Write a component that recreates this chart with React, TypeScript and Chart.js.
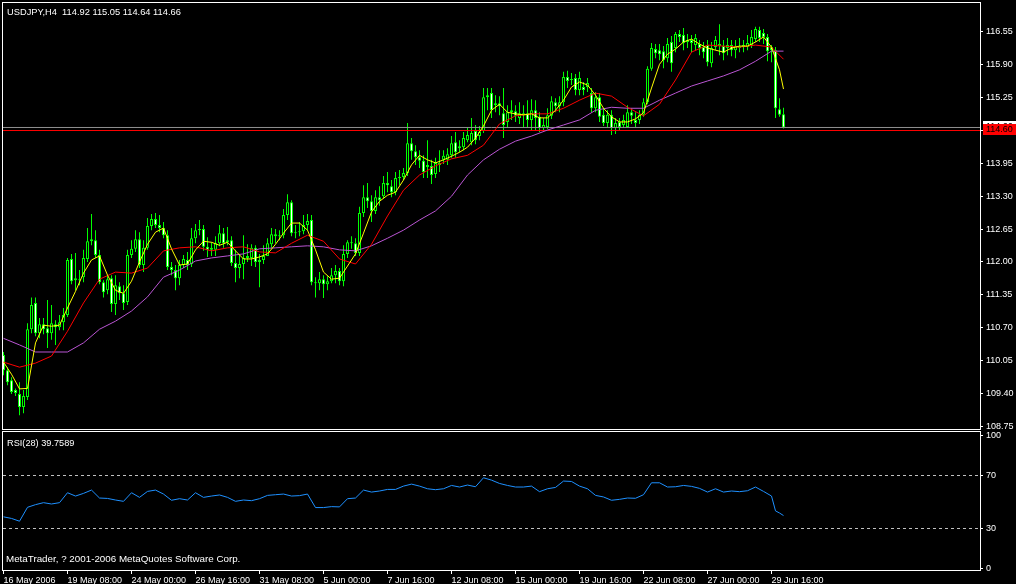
import React, { useEffect, useRef } from "react";
import { Chart, registerables } from "chart.js";

Chart.register(...registerables);

const symbolTitle = "USDJPY,H4  114.92 115.05 114.64 114.66";
const rsiTitle = "RSI(28) 39.7589";
const copyright = "MetaTrader, ? 2001-2006 MetaQuotes Software Corp.";

const opens = [
  110.16, 109.86, 109.66, 109.47, 109.39, 109.13, 109.33, 110.67, 111.19, 110.59,
  110.77, 110.69, 110.59, 110.77, 110.71, 110.81, 110.95, 112.06, 111.64, 111.66,
  111.70, 112.06, 112.41, 112.43, 112.14, 111.60, 111.44, 111.68, 111.17, 111.52,
  111.38, 111.21, 112.14, 112.26, 112.45, 111.94, 112.28, 112.71, 112.85, 112.73,
  112.67, 112.53, 111.90, 111.84, 111.68, 111.94, 112.04, 111.96, 112.47, 112.63,
  112.65, 112.30, 112.24, 112.24, 112.37, 112.57, 112.39, 112.43, 111.98, 111.88,
  111.96, 112.08, 112.08, 112.28, 112.00, 112.04, 112.12, 112.35, 112.55, 112.51,
  112.53, 112.93, 113.18, 112.57, 112.59, 112.61, 112.73, 112.83, 111.60, 111.58,
  111.66, 111.56, 111.62, 111.74, 111.82, 111.62, 112.16, 112.39, 112.37, 112.18,
  112.97, 113.28, 113.20, 113.01, 113.28, 113.30, 113.56, 113.50, 113.38, 113.66,
  113.68, 113.76, 114.35, 114.19, 114.07, 114.00, 113.88, 113.90, 113.74, 113.96,
  114.02, 114.02, 114.11, 114.37, 114.25, 114.27, 114.41, 114.37, 114.59, 114.49,
  114.59, 115.26, 115.34, 115.10, 115.14, 114.94, 114.77, 114.96, 114.98, 114.85,
  114.94, 114.94, 114.81, 115.00, 114.87, 114.65, 114.67, 114.89, 115.16, 115.08,
  115.16, 115.66, 115.60, 115.64, 115.40, 115.46, 115.46, 115.34, 115.04, 115.26,
  114.91, 114.75, 114.91, 114.65, 114.77, 114.71, 114.67, 114.96, 114.81, 114.81,
  114.91, 115.16, 115.82, 116.21, 116.19, 116.17, 116.03, 116.35, 116.23, 116.51,
  116.49, 116.39, 116.39, 116.29, 116.31, 116.25, 116.29, 115.93, 116.25, 116.31,
  116.27, 116.23, 116.29, 116.19, 116.25, 116.25, 116.25, 116.29, 116.41, 116.59,
  116.53, 116.45, 116.25, 116.19, 115.02, 114.92,
];

const highs = [
  110.22, 109.92, 109.72, 109.50, 109.62, 109.47, 110.79, 111.30, 111.30, 110.89,
  110.89, 111.25, 111.15, 110.85, 110.95, 111.09, 112.08, 112.16, 112.18, 111.84,
  112.24, 112.67, 112.95, 112.63, 112.24, 111.64, 111.72, 111.74, 111.74, 111.60,
  111.54, 112.24, 112.43, 112.63, 112.59, 112.43, 112.87, 112.95, 112.97, 112.93,
  112.79, 112.63, 112.00, 111.94, 112.04, 112.14, 112.20, 112.67, 112.75, 112.83,
  112.73, 112.49, 112.39, 112.51, 112.73, 112.67, 112.69, 112.51, 112.24, 112.14,
  112.53, 112.35, 112.35, 112.33, 112.16, 112.33, 112.47, 112.67, 112.65, 112.63,
  113.05, 113.34, 113.22, 112.73, 112.79, 112.93, 112.95, 112.93, 111.70, 111.80,
  111.74, 111.72, 111.88, 111.94, 111.88, 112.33, 112.43, 112.51, 112.47, 113.09,
  113.52, 113.56, 113.32, 113.42, 113.50, 113.70, 113.78, 113.62, 113.78, 113.82,
  113.86, 114.75, 114.45, 114.31, 114.21, 114.11, 114.41, 114.02, 114.06, 114.21,
  114.21, 114.25, 114.49, 114.57, 114.41, 114.57, 114.65, 114.85, 114.71, 114.69,
  115.44, 115.44, 115.44, 115.30, 115.28, 115.44, 115.10, 115.20, 115.10, 115.16,
  115.10, 115.20, 115.22, 115.20, 114.96, 114.85, 115.04, 115.28, 115.24, 115.28,
  115.76, 115.78, 115.74, 115.72, 115.76, 115.56, 115.64, 115.44, 115.36, 115.34,
  115.04, 115.00, 115.00, 114.85, 114.85, 114.91, 115.10, 115.04, 114.96, 115.00,
  115.24, 115.87, 116.33, 116.31, 116.31, 116.27, 116.43, 116.47, 116.55, 116.59,
  116.63, 116.51, 116.49, 116.51, 116.39, 116.35, 116.39, 116.35, 116.47, 116.70,
  116.39, 116.43, 116.39, 116.39, 116.43, 116.39, 116.49, 116.59, 116.65, 116.65,
  116.61, 116.51, 116.29, 116.25, 115.24, 115.05,
];

const lows = [
  109.76, 109.56, 109.39, 109.35, 108.97, 109.01, 109.27, 110.59, 110.53, 110.49,
  110.57, 110.30, 110.46, 110.36, 110.65, 110.65, 110.91, 111.56, 111.44, 111.54,
  111.60, 112.00, 112.33, 112.08, 111.56, 111.30, 111.36, 111.01, 110.95, 111.25,
  111.05, 111.15, 112.08, 112.20, 111.88, 111.80, 112.24, 112.63, 112.67, 112.59,
  112.47, 111.84, 111.74, 111.44, 111.54, 111.88, 111.84, 111.90, 112.37, 112.53,
  112.22, 112.10, 112.12, 112.12, 112.31, 112.28, 112.33, 111.92, 111.60, 111.68,
  111.66, 112.00, 111.92, 111.90, 111.50, 111.96, 112.12, 112.28, 112.37, 112.43,
  112.47, 112.83, 112.51, 112.47, 112.51, 112.55, 112.63, 111.54, 111.30, 111.44,
  111.29, 111.44, 111.58, 111.58, 111.54, 111.52, 112.08, 112.26, 112.12, 112.12,
  112.89, 113.07, 112.79, 112.95, 113.11, 113.26, 113.38, 113.28, 113.32, 113.52,
  113.62, 113.70, 114.02, 113.92, 113.86, 113.66, 113.66, 113.54, 113.66, 113.78,
  113.94, 113.92, 114.06, 114.06, 114.17, 114.21, 114.37, 114.31, 114.33, 114.41,
  114.55, 115.00, 114.85, 114.96, 114.90, 114.45, 114.65, 114.81, 114.77, 114.73,
  114.65, 114.65, 114.61, 114.61, 114.57, 114.61, 114.63, 114.83, 114.96, 114.96,
  115.08, 115.44, 115.50, 115.30, 115.30, 115.30, 115.36, 114.96, 114.96, 114.77,
  114.69, 114.65, 114.51, 114.53, 114.61, 114.65, 114.65, 114.73, 114.67, 114.73,
  114.87, 115.12, 115.78, 116.03, 115.99, 115.83, 115.95, 115.76, 116.15, 116.35,
  116.19, 116.23, 116.15, 116.19, 116.09, 116.03, 115.87, 115.85, 116.19, 116.09,
  115.99, 116.09, 116.07, 116.03, 116.15, 116.15, 116.19, 116.23, 116.35, 116.35,
  116.31, 115.97, 115.95, 114.85, 114.87, 114.64,
];

const closes = [
  109.86, 109.62, 109.43, 109.41, 109.13, 109.35, 110.67, 111.15, 110.59, 110.77,
  110.67, 110.59, 110.79, 110.71, 110.81, 110.95, 112.04, 111.62, 111.68, 111.64,
  112.08, 112.41, 112.45, 112.14, 111.60, 111.40, 111.66, 111.17, 111.54, 111.38,
  111.19, 112.14, 112.26, 112.45, 111.94, 112.28, 112.71, 112.85, 112.73, 112.67,
  112.53, 111.90, 111.84, 111.68, 111.94, 112.06, 111.94, 112.47, 112.63, 112.65,
  112.30, 112.24, 112.28, 112.37, 112.57, 112.37, 112.43, 111.98, 111.88, 111.96,
  112.08, 112.12, 112.28, 112.00, 112.04, 112.12, 112.37, 112.55, 112.51, 112.53,
  112.93, 113.18, 112.57, 112.59, 112.61, 112.73, 112.81, 111.60, 111.58, 111.66,
  111.56, 111.62, 111.74, 111.82, 111.62, 112.16, 112.39, 112.37, 112.18, 112.97,
  113.28, 113.20, 113.01, 113.28, 113.22, 113.56, 113.52, 113.38, 113.66, 113.68,
  113.76, 114.35, 114.19, 114.07, 114.00, 113.78, 113.92, 113.72, 113.96, 113.92,
  114.10, 114.13, 114.35, 114.17, 114.29, 114.45, 114.51, 114.55, 114.41, 114.57,
  115.26, 115.30, 115.00, 115.14, 115.08, 114.71, 114.96, 115.00, 114.89, 114.94,
  114.90, 114.81, 115.00, 114.85, 114.65, 114.71, 114.90, 115.18, 115.08, 115.16,
  115.66, 115.58, 115.62, 115.40, 115.64, 115.40, 115.54, 115.04, 115.26, 114.87,
  114.75, 114.91, 114.65, 114.75, 114.67, 114.81, 114.96, 114.89, 114.75, 114.91,
  115.16, 115.82, 116.23, 116.13, 116.11, 115.99, 116.31, 115.93, 116.51, 116.45,
  116.33, 116.35, 116.33, 116.43, 116.23, 116.15, 115.95, 116.23, 116.39, 116.27,
  116.13, 116.29, 116.19, 116.27, 116.23, 116.29, 116.33, 116.45, 116.61, 116.43,
  116.45, 116.17, 116.19, 115.04, 114.91, 114.66,
];

// fast moving average, read every 2nd bar (plus the last bar)
const fastMa = [
  110.02, 109.78, 109.49, 109.50, 110.40, 110.75, 110.73, 110.75, 111.09, 111.42,
  111.78, 112.04, 112.12, 111.74, 111.44, 111.38, 111.62, 112.00, 112.35, 112.59,
  112.67, 112.26, 111.94, 111.96, 112.24, 112.41, 112.39, 112.33, 112.39, 112.22,
  112.06, 112.06, 112.10, 112.16, 112.35, 112.57, 112.77, 112.77, 112.63, 112.24,
  111.80, 111.66, 111.68, 111.92, 112.16, 112.57, 112.99, 113.20, 113.32, 113.38,
  113.62, 113.92, 114.11, 114.02, 113.96, 114.02, 114.09, 114.17, 114.27, 114.45,
  114.69, 115.00, 115.12, 114.96, 114.93, 114.91, 114.93, 114.85, 114.85, 115.00,
  115.20, 115.46, 115.56, 115.50, 115.30, 115.04, 114.87, 114.77, 114.77, 114.83,
  114.95, 115.44, 115.91, 116.11, 116.21, 116.35, 116.41, 116.31, 116.23, 116.19,
  116.15, 116.23, 116.27, 116.27, 116.35, 116.45, 116.25, 115.80, 115.42,
];

// medium and slow moving averages, read every 4th bar (plus the last bar)
const mediumMa = [
  110.02, 109.92, 110.00, 110.14, 110.63, 111.19, 111.66, 111.80, 111.78, 111.88,
  112.22, 112.28, 112.30, 112.22, 112.28, 112.30, 112.20, 112.18, 112.37, 112.53,
  112.41, 112.06, 111.96, 112.35, 112.91, 113.42, 113.72, 113.90, 114.04, 114.11,
  114.31, 114.73, 114.89, 114.93, 114.93, 115.04, 115.20, 115.34, 115.28, 115.06,
  114.89, 115.12, 115.60, 116.15, 116.29, 116.27, 116.25, 116.29, 116.25, 116.01,
];

const slowMa = [
  110.49, 110.36, 110.22, 110.22, 110.22, 110.40, 110.67, 110.83, 111.03, 111.31,
  111.70, 111.84, 112.02, 112.08, 112.12, 112.16, 112.26, 112.28, 112.30, 112.32,
  112.30, 112.24, 112.22, 112.32, 112.47, 112.63, 112.83, 113.01, 113.30, 113.72,
  114.02, 114.23, 114.39, 114.49, 114.61, 114.71, 114.81, 115.00, 115.06, 115.04,
  115.04, 115.20, 115.34, 115.48, 115.58, 115.68, 115.80, 115.97, 116.17, 116.17,
];

// RSI(28), read every 2nd bar, then the last three bars
const rsiValues = [
  38.8, 37.6, 35.5, 46.0, 48.0, 49.5, 48.5, 49.5, 57.0, 54.5,
  56.5, 59.0, 53.0, 52.7, 51.5, 50.5, 57.0, 53.5, 58.0, 59.0,
  56.0, 51.3, 52.5, 51.5, 57.0, 53.5, 54.5, 55.3, 53.5, 50.5,
  51.5, 51.0, 52.5, 55.0, 55.5, 56.0, 54.5, 54.8, 56.0, 45.8,
  45.8, 46.5, 46.3, 52.5, 53.0, 59.0, 57.5, 58.3, 59.5, 59.5,
  62.0, 63.5, 62.0, 60.0, 59.3, 60.0, 62.5, 61.3, 62.8, 61.5,
  68.3, 66.5, 64.0, 62.5, 61.3, 61.3, 62.0, 57.8, 60.0, 61.0,
  65.8, 65.5, 62.0, 60.0, 55.0, 53.8, 51.3, 52.0, 53.0, 52.8,
  55.5, 64.5, 64.5, 61.3, 61.5, 62.5, 61.8, 60.3, 57.5, 60.0,
  57.5, 58.3, 57.8, 58.5, 61.3, 58.0, 54.5, 43.3, 41.7, 39.76,
];

const bidPrice = 114.66;
const linePrice = 114.6;
const priceTicks = [108.75, 109.4, 110.05, 110.7, 111.35, 112.0, 112.65, 113.3, 113.95, 114.6, 115.25, 115.9, 116.55];
const rsiTicks = [0, 30, 70, 100];
const rsiLevels = [70, 30];
const timeLabels = [
  "16 May 2006", "19 May 08:00", "24 May 00:00", "26 May 16:00", "31 May 08:00", "5 Jun 00:00",
  "7 Jun 16:00", "12 Jun 08:00", "15 Jun 00:00", "19 Jun 16:00", "22 Jun 08:00", "27 Jun 00:00", "29 Jun 16:00",
];

const BAR_COUNT = opens.length;
const LAST = BAR_COUNT - 1;
const barIndex = Array.from({ length: BAR_COUNT }, (_, i) => i);
const stepBars = (step: number, upTo: number) => Array.from({ length: Math.floor(upTo / step) + 1 }, (_, i) => i * step);
const fastBars = stepBars(2, 194).concat([LAST]);
const maBars = stepBars(4, 192).concat([LAST]);
const rsiBars = stepBars(2, 192).concat([193, 194, LAST]);
const timeTickBars = stepBars(16, 192);

const X_MIN = -0.125;
const X_MAX = 244.125;

const FONT = '"Liberation Sans", Arial, sans-serif';

const zeroPad = (s: any) => {
  s.paddingTop = 0;
  s.paddingBottom = 0;
  s.paddingLeft = 0;
  s.paddingRight = 0;
};

const mainDecor = {
  id: "mainDecor",
  afterDraw(chart: any) {
    const { ctx, chartArea } = chart;
    const { left, top, right, bottom } = chartArea;
    const y = chart.scales.y;
    ctx.save();
    ctx.strokeStyle = "#FFFFFF";
    ctx.lineWidth = 1;
    ctx.strokeRect(left - 0.5, top - 0.5, right - left + 1, bottom - top + 1);
    ctx.fillStyle = "#FFFFFF";
    ctx.font = `9.3px ${FONT}`;
    ctx.textAlign = "left";
    ctx.textBaseline = "alphabetic";
    ctx.fillText(symbolTitle, 7, 15);
    const drawLabel = (price: number, bg: string) => {
      const py = Math.floor(y.getPixelForValue(price));
      ctx.fillStyle = bg;
      ctx.fillRect(right + 3, py - 6, chart.width - right - 3, 11);
      ctx.fillStyle = "#000000";
      ctx.font = `9px ${FONT}`;
      ctx.textBaseline = "middle";
      ctx.fillText(price.toFixed(2), right + 6, py - 0.5);
    };
    drawLabel(bidPrice, "#FFFFFF");
    drawLabel(linePrice, "#FF0000");
    ctx.restore();
  },
};

const rsiDecor = {
  id: "rsiDecor",
  afterDraw(chart: any) {
    const { ctx, chartArea } = chart;
    const { left, top, right, bottom } = chartArea;
    ctx.save();
    ctx.strokeStyle = "#FFFFFF";
    ctx.lineWidth = 1;
    ctx.strokeRect(left - 0.5, top - 0.5, right - left + 1, bottom - top + 1);
    ctx.fillStyle = "#FFFFFF";
    ctx.textAlign = "left";
    ctx.textBaseline = "alphabetic";
    ctx.font = `9.2px ${FONT}`;
    ctx.fillText(rsiTitle, 7, 14.5);
    ctx.font = `9.8px ${FONT}`;
    ctx.fillText(copyright, 6, 130.5);
    ctx.restore();
  },
};

export default function App() {
  const mainRef = useRef<HTMLCanvasElement>(null);
  const rsiRef = useRef<HTMLCanvasElement>(null);

  useEffect(() => {
    const mainChart = new Chart(mainRef.current as HTMLCanvasElement, {
      type: "bar",
      data: {
        datasets: [
          {
            type: "line",
            label: "Fast MA",
            data: fastBars.map((b, i) => ({ x: b, y: fastMa[i] })),
            borderColor: "#FFFF00",
            borderWidth: 1,
            pointRadius: 0,
            tension: 0,
            fill: false,
            order: 0,
          },
          {
            type: "line",
            label: "Medium MA",
            data: maBars.map((b, i) => ({ x: b, y: mediumMa[i] })),
            borderColor: "#FF0000",
            borderWidth: 1,
            pointRadius: 0,
            tension: 0,
            fill: false,
            order: 0,
          },
          {
            type: "line",
            label: "Slow MA",
            data: maBars.map((b, i) => ({ x: b, y: slowMa[i] })),
            borderColor: "#BA55D3",
            borderWidth: 1,
            pointRadius: 0,
            tension: 0,
            fill: false,
            order: 0,
          },
          {
            type: "line",
            label: "Bid",
            data: [
              { x: X_MIN, y: bidPrice },
              { x: X_MAX, y: bidPrice },
            ],
            borderColor: "#909090",
            borderWidth: 1,
            pointRadius: 0,
            fill: false,
            order: 0,
          },
          {
            type: "line",
            label: "Level",
            data: [
              { x: X_MIN, y: linePrice },
              { x: X_MAX, y: linePrice },
            ],
            borderColor: "#FF0000",
            borderWidth: 1,
            pointRadius: 0,
            fill: false,
            order: 0,
          },
          {
            type: "bar",
            label: "Bodies",
            data: barIndex.map((i) => ({ x: i, y: [opens[i], closes[i]] })) as any,
            backgroundColor: (c: any) => (closes[c.dataIndex] >= opens[c.dataIndex] ? "#000000" : "#FFFFFF"),
            borderColor: "#00FF00",
            borderWidth: 1,
            borderSkipped: false,
            barThickness: 3,
            grouped: false,
            minBarLength: 1,
            inflateAmount: 0,
            order: 1,
          } as any,
          {
            type: "bar",
            label: "Wicks",
            data: barIndex.map((i) => ({ x: i, y: [lows[i], highs[i]] })) as any,
            backgroundColor: "#00FF00",
            borderWidth: 0,
            barThickness: 1,
            grouped: false,
            inflateAmount: 0,
            order: 2,
          } as any,
        ],
      },
      options: {
        responsive: false,
        animation: false,
        events: [],
        layout: { padding: { left: 3, top: 3, right: 0, bottom: 2 } },
        plugins: { legend: { display: false }, tooltip: { enabled: false } },
        scales: {
          x: {
            type: "linear",
            min: X_MIN,
            max: X_MAX,
            display: false,
            offset: false,
            grid: { offset: false },
          },
          y: {
            type: "linear",
            position: "right",
            min: 108.697,
            max: 117.122,
            beginAtZero: false,
            afterFit: (s: any) => {
              s.width = 36;
              zeroPad(s);
            },
            afterBuildTicks: (s: any) => {
              s.ticks = priceTicks.map((v) => ({ value: v }));
            },
            ticks: {
              color: "#FFFFFF",
              font: { family: FONT, size: 9 },
              padding: 3,
              autoSkip: false,
              callback: (v: any) => Number(v).toFixed(2),
            },
            grid: { drawOnChartArea: false, drawTicks: true, tickLength: 3, color: "#FFFFFF" },
            border: { display: false },
          },
        },
      } as any,
      plugins: [mainDecor],
    });

    const rsiChart = new Chart(rsiRef.current as HTMLCanvasElement, {
      type: "line",
      data: {
        datasets: [
          {
            label: "RSI(28)",
            data: rsiBars.map((b, i) => ({ x: b, y: rsiValues[i] })),
            borderColor: "#1E90FF",
            borderWidth: 1,
            pointRadius: 0,
            tension: 0,
            fill: false,
          },
          ...rsiLevels.map((lv) => ({
            label: `Level ${lv}`,
            data: [
              { x: X_MIN, y: lv },
              { x: X_MAX, y: lv },
            ],
            borderColor: "#C0C0C0",
            borderWidth: 1,
            borderDash: [3, 3],
            pointRadius: 0,
            fill: false,
          })),
        ],
      },
      options: {
        responsive: false,
        animation: false,
        events: [],
        layout: { padding: { left: 3, top: 1, right: 0, bottom: 0 } },
        plugins: { legend: { display: false }, tooltip: { enabled: false } },
        scales: {
          x: {
            type: "linear",
            position: "bottom",
            min: X_MIN,
            max: X_MAX,
            offset: false,
            afterFit: (s: any) => {
              s.height = 14;
              zeroPad(s);
            },
            afterBuildTicks: (s: any) => {
              s.ticks = timeTickBars.map((v) => ({ value: v }));
            },
            ticks: {
              color: "#FFFFFF",
              font: { family: FONT, size: 9 },
              align: "start",
              padding: 1.5,
              autoSkip: false,
              maxRotation: 0,
              minRotation: 0,
              callback: (_v: any, i: number) => timeLabels[i],
            },
            grid: { drawOnChartArea: false, drawTicks: true, tickLength: 4, color: "#FFFFFF", offset: false },
            border: { display: false },
          },
          y: {
            type: "linear",
            position: "right",
            min: -1.32,
            max: 102.83,
            afterFit: (s: any) => {
              s.width = 36;
              zeroPad(s);
            },
            afterBuildTicks: (s: any) => {
              s.ticks = rsiTicks.map((v) => ({ value: v }));
            },
            ticks: {
              color: "#FFFFFF",
              font: { family: FONT, size: 9 },
              padding: 3,
              autoSkip: false,
              callback: (v: any) => String(v),
            },
            grid: { drawOnChartArea: false, drawTicks: true, tickLength: 3, color: "#FFFFFF" },
            border: { display: false },
          },
        },
      } as any,
      plugins: [rsiDecor],
    });

    return () => {
      mainChart.destroy();
      rsiChart.destroy();
    };
  }, []);

  return (
    <div
      style={{
        position: "fixed",
        left: 0,
        top: 0,
        width: 1016,
        height: 584,
        background: "#000000",
        overflow: "hidden",
      }}
    >
      <canvas
        ref={mainRef}
        width={1016}
        height={431}
        style={{ position: "absolute", left: 0, top: 0, width: 1016, height: 431 }}
      />
      <canvas
        ref={rsiRef}
        width={1016}
        height={153}
        style={{ position: "absolute", left: 0, top: 431, width: 1016, height: 153 }}
      />
    </div>
  );
}
